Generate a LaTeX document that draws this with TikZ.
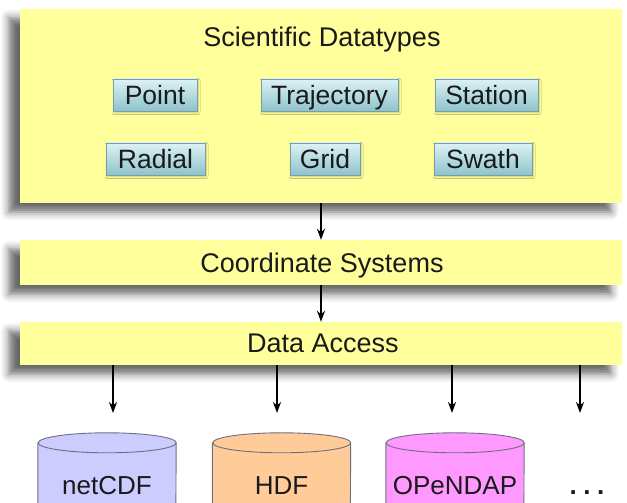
\documentclass[tikz,border=0pt]{standalone}
\usepackage{fontspec}
\setmainfont{Liberation Sans}
\usetikzlibrary{shadows.blur,arrows.meta}
\definecolor{bary}{HTML}{FFFF9C}
\definecolor{btntop}{HTML}{DDF2F5}
\definecolor{btnbot}{HTML}{8EC3CC}
\definecolor{btnedge}{HTML}{7A9EA6}
\definecolor{cyledge}{HTML}{6E6E80}
\definecolor{cylblue}{HTML}{CCCCFF}
\definecolor{cylorange}{HTML}{FFCC99}
\definecolor{cylpink}{HTML}{FF99FF}
\definecolor{txt}{HTML}{1A1A1A}
\newcommand\dbcyl[4]{%
  \node[dbbox] (#1) at (#2,25) {};
  \path[fill=#3,draw=cyledge,line width=0.9pt]
    ([yshift=-10pt]#1.north west) -- (#1.south west)
    arc[start angle=180,end angle=360,x radius=69pt,y radius=10pt]
    -- ([yshift=-10pt]#1.north east)
    arc[start angle=0,end angle=180,x radius=69pt,y radius=10pt] -- cycle;
  \draw[cyledge,line width=0.9pt] ([yshift=-10pt]#1.north east)
    arc[start angle=0,end angle=-180,x radius=69pt,y radius=10pt];
  \node[cyltext] (#1t) at (#2,8) {#4};
}
\begin{document}
\begin{tikzpicture}[x=1pt,y=1pt,
  bar/.style={fill=bary,draw=none,minimum width=602pt,inner sep=0pt,
    blur shadow={shadow xshift=-11pt,shadow yshift=-9pt,shadow blur radius=8pt,shadow opacity=60}},
  btn/.style={top color=btntop,bottom color=btnbot,draw=btnedge,line width=0.8pt,
    minimum height=32pt,inner sep=0pt,text=txt,font=\fontsize{26.5}{30}\selectfont,
    text height=22pt,text depth=3pt,
    blur shadow={shadow xshift=1pt,shadow yshift=-1.5pt,shadow blur radius=2pt,shadow opacity=25}},
  lbl/.style={font=\fontsize{27}{30}\selectfont,inner sep=0pt,text=txt,anchor=base},
  dbbox/.style={rectangle,draw=none,minimum width=138pt,minimum height=90pt,inner sep=0pt},
  cyltext/.style={font=\fontsize{26}{30}\selectfont,inner sep=0pt,text=txt,anchor=base},
  arr/.style={line width=1.7pt,-{Stealth[length=11pt,width=8pt]}}
]
\useasboundingbox (0,0) rectangle (627,503);
\clip (0,0) rectangle (627,503);
% top block
\node[bar,minimum height=194pt] (sd) at (321,397) {};
\node[lbl] (sdt) at (322,456) {Scientific Datatypes};
\node[btn,minimum width=84pt]  (point) at (155,408)   {Point};
\node[btn,minimum width=137pt] (traj)  at (329.5,408) {Trajectory};
\node[btn,minimum width=103pt] (stat)  at (486.5,408) {Station};
\node[btn,minimum width=99pt]  (rad)   at (155.5,344) {Radial};
\node[btn,minimum width=70pt]  (grid)  at (325,344)   {Grid};
\node[btn,minimum width=98pt]  (swath) at (483,344)   {Swath};
% coordinate systems
\node[bar,minimum height=45pt] (cs) at (321,240.5) {};
\node[lbl] (cst) at (322,230) {Coordinate Systems};
% data access
\node[bar,minimum height=43pt] (da) at (321,159.5) {};
\node[lbl] (dat) at (323,150) {Data Access};
% arrows
\draw[arr] (sd.south) -- (cs.north);
\draw[arr] (cs.south) -- (da.north);
\coordinate (a1) at (113,90);
\coordinate (a2) at (277,90);
\coordinate (a3) at (452,90);
\coordinate (a4) at (580,90);
\draw[arr] (da.south -| a1) -- (a1);
\draw[arr] (da.south -| a2) -- (a2);
\draw[arr] (da.south -| a3) -- (a3);
\draw[arr] (da.south -| a4) -- (a4);
% data stores
\dbcyl{netcdf}{107}{cylblue}{netCDF}
\dbcyl{hdf}{281.5}{cylorange}{HDF}
\dbcyl{opendap}{455}{cylpink}{OPeNDAP}
\node[cyltext] (more) at (587,8) {\bfseries .\hspace{6.5pt}.\hspace{6.5pt}.};
\end{tikzpicture}
\end{document}
